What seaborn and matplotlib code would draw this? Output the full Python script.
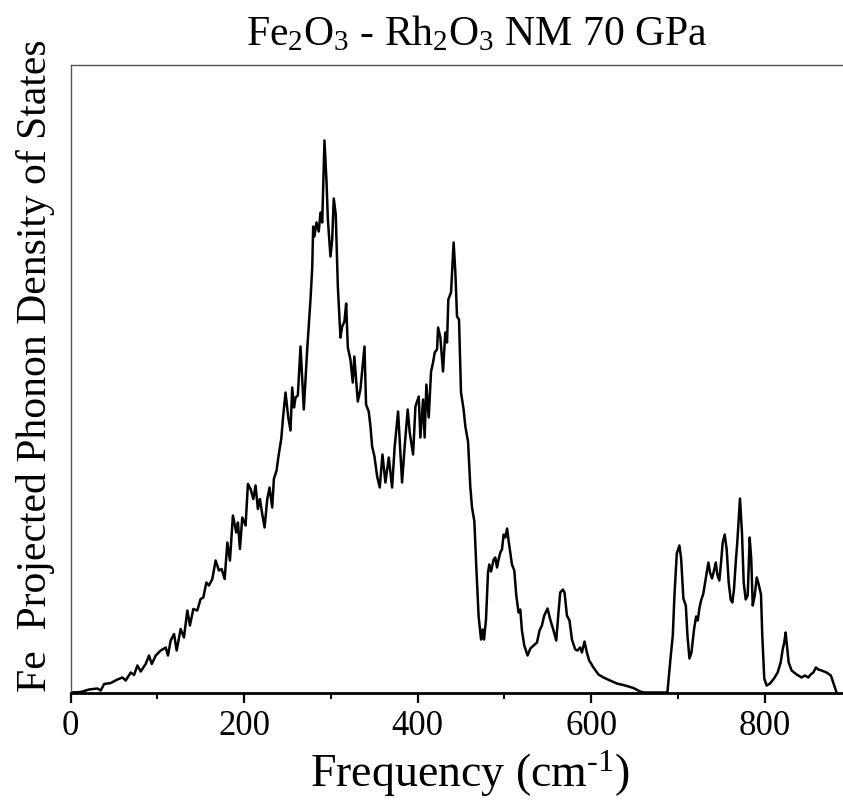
import matplotlib
matplotlib.use("Agg")
import numpy as np
import pandas as pd
import matplotlib.pyplot as plt
import seaborn as sns
from matplotlib.ticker import MultipleLocator

# ---- data (frequency in cm^-1, Fe projected phonon DOS in arbitrary units) ----
freq_acoustic = [0, 11.9, 21.4, 31, 34.9, 38.7, 46.4, 54, 59.8, 63.6, 69.4, 73.2, 77.1, 80.9,
                 86.6, 90.5, 93.6, 98.2, 103.9, 109.7, 112.3, 115.4, 119.3, 122.3, 126.9, 130.7,
                 134.6, 137.6, 141.5, 146.1, 149.9, 153, 156.5, 159.5, 163.4, 167.2, 171, 174.1,
                 177.6, 180.7, 183.7, 187.1, 191, 192.9, 195.2, 197.9, 201.7, 204.4, 207.5, 210.6,
                 213.2, 215.9, 218.2, 220.9, 223.6, 226.7, 229.3, 232.4, 234.3, 237.4, 240, 242.8,
                 245.1, 247.7, 250.9, 253.5, 255.4, 257.5, 259.3, 261.9]
dos_acoustic = [0, 0.5, 3, 4, 2, 8.5, 9.5, 13, 15, 12, 20, 17.5, 27, 21,
                28.5, 37, 28.5, 37, 42, 45, 37, 52, 58.5, 42, 63.5, 55,
                82, 67, 83.5, 82, 93.5, 95, 110, 107, 113.5, 132, 122, 123.5,
                113.5, 150, 132, 177, 160, 170, 143.5, 175, 167, 208.5, 203.5, 193.5,
                207, 183.5, 193.5, 178.5, 165, 193.5, 205, 185, 213.5, 222, 238.5, 253.5,
                277, 300, 275, 262, 305, 285, 295, 297]

freq_main = [265, 268.8, 272.7, 276.5, 278.5, 279.6, 281, 283.4, 286, 288, 290, 292.6, 295,
             296.5, 299.5, 301.5, 303.3, 305.6, 308, 311, 313, 315.6, 317.6, 319.5, 322.5,
             325.2, 327, 331, 334, 338.7, 340.5, 343.6, 345.6, 347.5, 350.2, 353.3, 356.3,
             359.4, 362.8, 366.7, 370.5, 373.5, 377.4, 382, 385, 388.5, 390.8, 394.7, 397.4,
             401.2, 403.1, 406.2, 408, 410, 412.7, 415.4, 417.7, 419.6, 422.3, 423.5, 426.1,
             429.2, 431.8, 433.8, 435.3, 438.4, 441.4, 443.4, 445.3, 447.6, 449.9, 452.9,
             454.9, 458, 460.6]
dos_main = [346, 283, 343, 393, 425, 466, 456, 470, 461, 480, 470, 552, 510,
            473, 436, 453, 494, 478, 406, 355, 366, 371, 389, 345, 333,
            310, 336, 291, 303, 346, 288, 281, 266, 246, 236, 216, 205,
            238, 210, 235, 205, 246, 281, 210, 246, 283, 260, 238, 286,
            296, 255, 293, 255, 308, 275, 321, 330, 340, 343, 365, 355,
            321, 360, 350, 393, 400, 450, 420, 376, 373, 300, 283,
            266, 251, 206]

freq_optic1 = [462.6, 465.3, 467.5, 470.2, 473, 474.8, 476.4, 478.7, 481, 482.5, 484.5, 487.5,
               489.4, 491.4, 493.2, 495.2, 497.1, 499, 501, 503, 504.7, 506.7, 508.6, 511.3,
               513.6, 516.2, 518.2, 520.1, 522.8, 526.6, 529.8, 533.5, 537.4, 540.4, 543.1,
               545.8, 549.6, 552.7, 556.5, 559.6, 562.2, 564.2, 567.3, 569.2, 571.9, 574.9,
               577.7, 581.5, 584.1, 587.2, 589.2, 592.2, 594.9, 597.6, 602.5, 608.3, 614,
               621.7, 629.4, 639, 648.6, 656.2, 660, 687.7]
dos_optic1 = [185, 171, 126, 76, 53, 63, 53, 73, 120, 128, 121, 133,
              135, 125, 133, 140, 143, 158, 155, 164, 152, 140, 128, 122,
              97, 80, 83, 62, 47, 37, 44, 47, 50, 62, 67,
              77, 84, 73, 62, 52, 80, 100, 103, 100, 77, 72,
              53, 43, 42, 45, 40, 51, 40, 32, 25, 18, 15,
              12, 9, 7, 4.5, 1, 0, 0]

freq_optic2 = [691.6, 693.9, 695.8, 698.5, 701.5, 703.5, 706.1, 708.9, 710.8, 713.1, 715.4,
               718.5, 720.8, 722.7, 724.5, 726.5, 729.1, 731.1, 733, 734.9, 736.8, 739.1,
               741.4, 743.4, 745.2, 747.5, 749.5, 751.4, 753.7, 756, 758.3, 760.6, 762.5,
               764.4, 766.4, 768.2, 771.3, 773.6, 775.6, 777.9, 780.2, 782.5, 784.3, 786,
               788.3, 790.6, 792.9, 795.5, 797, 799.3, 802, 805.9, 810.5, 814.7, 818.2,
               820.5, 822.3, 823.9, 825.4, 827.4, 830.8, 836.6, 842.3, 846.2, 850, 852.7,
               855.8, 858.8, 861.5, 865.3, 871.1, 876, 878.7, 882.6]
dos_optic2 = [37, 57, 97, 139, 147, 134, 94, 87, 57, 34, 40,
              64, 76, 72, 84, 92, 99, 110, 120, 130, 120, 114,
              122, 130, 118, 112, 130, 150, 158, 143, 110, 93, 90,
              103, 130, 150, 194, 160, 110, 93, 97, 155, 133, 87,
              97, 115, 108, 98, 57, 14, 7, 9, 14, 20, 30,
              43, 50, 60, 47, 30, 22, 18, 15, 17, 15, 18,
              20, 25, 23, 22, 20, 17, 10, 0]

x_ticks = [0, 200, 400, 600, 800]
title_text = r"Fe$_2$O$_3$ - Rh$_2$O$_3$ NM 70 GPa"
x_label = r"Frequency (cm$^{\text{-}1}$)"
y_label = "Fe  Projected Phonon Density of States"

# ---- build table ----
freq = freq_acoustic + freq_main + freq_optic1 + freq_optic2
dos = dos_acoustic + dos_main + dos_optic1 + dos_optic2
df = pd.DataFrame({"freq": freq, "dos": np.array(dos) / 100.0})

sns.set_style("white")
plt.rcParams["font.family"] = ["Liberation Serif", "DejaVu Serif"]
plt.rcParams["mathtext.fontset"] = "custom"
plt.rcParams["mathtext.rm"] = "Liberation Serif"
plt.rcParams["mathtext.it"] = "Liberation Serif:italic"
plt.rcParams["mathtext.bf"] = "Liberation Serif:bold"
for key in ["text.color", "axes.labelcolor", "xtick.color", "ytick.color"]:
    plt.rcParams[key] = "black"

W, H = 843, 803
fig = plt.figure(figsize=(W / 100, H / 100), dpi=100)
left, right, top, bottom = 70.5, 843, 66, 693.5
ax = fig.add_axes([left / W, 1 - bottom / H, (right - left) / W, (bottom - top) / H])

sns.lineplot(data=df, x="freq", y="dos", ax=ax, color="black", linewidth=1.8,
             sort=False, estimator=None)

ax.set_xlim(0, 890)
ax.set_ylim(0, 6.275)
ax.set_xticks(x_ticks)
ax.xaxis.set_minor_locator(MultipleLocator(100))
ax.set_yticks([])
ax.tick_params(axis="x", which="major", direction="out", length=7, width=1.6,
               color="black", labelcolor="black", labelsize=25, pad=5, bottom=True)
ax.tick_params(axis="x", which="minor", direction="out", length=4.5, width=1.4,
               color="black", bottom=True)

for side in ["left", "top"]:
    ax.spines[side].set_color("#555555")
    ax.spines[side].set_linewidth(1.0)
ax.spines["right"].set_visible(False)
ax.spines["bottom"].set_color("black")
ax.spines["bottom"].set_linewidth(2.0)
ax.spines["bottom"].set_zorder(5)

ax.set_xlabel("")
ax.set_ylabel("")
fig.text(470 / W, 1 - 787 / H, x_label, ha="center", va="baseline", fontsize=33)
fig.text(36 / W, 1 - 366 / H, y_label, ha="center", va="center", rotation=90, fontsize=30)
fig.text(477 / W, 1 - 45 / H, title_text, ha="center", va="baseline", fontsize=30)

fig.savefig("out.png", dpi=100)
